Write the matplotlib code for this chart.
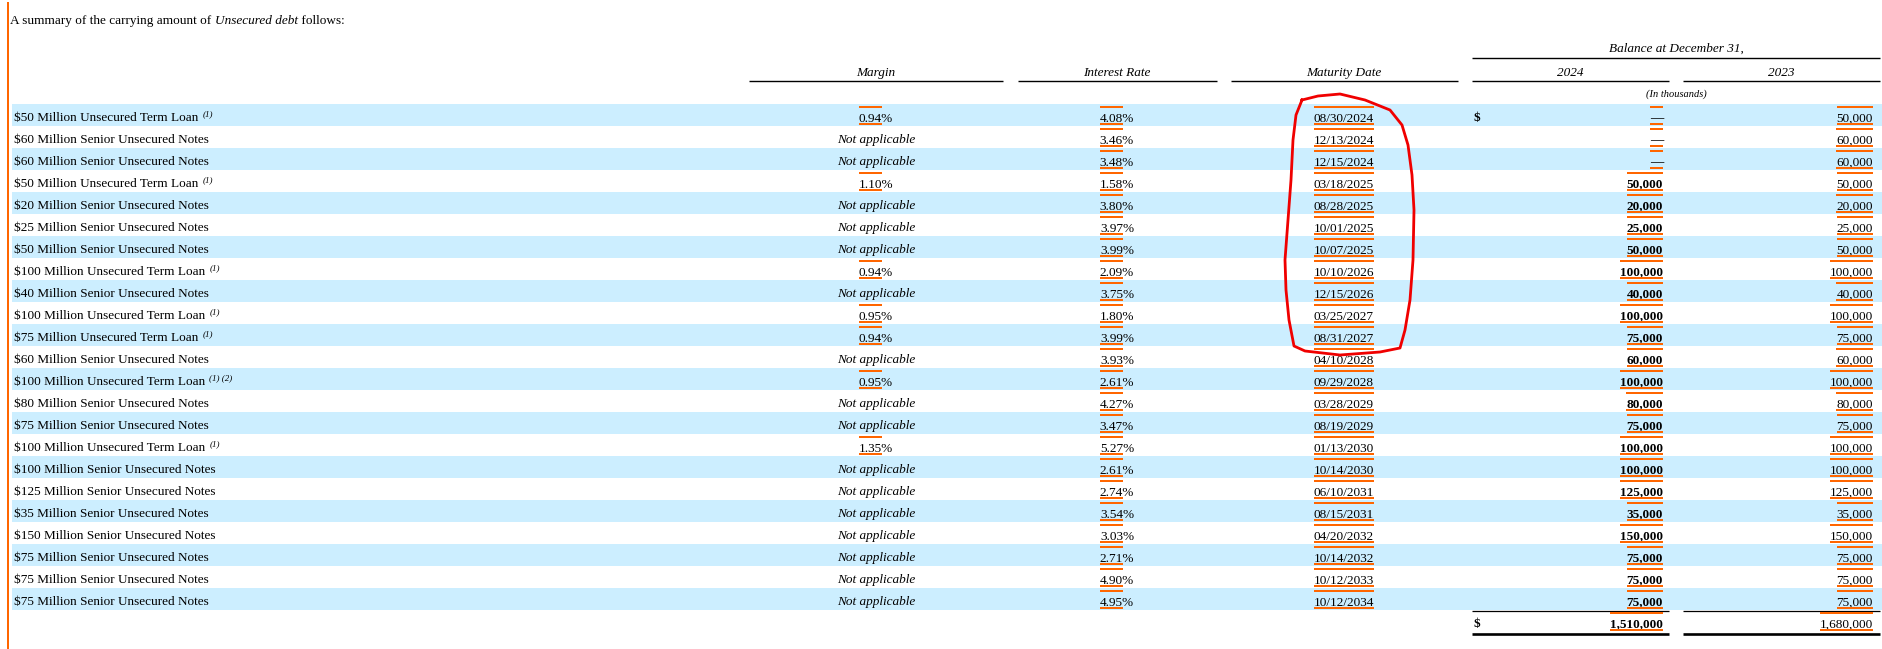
import matplotlib.pyplot as plt
from matplotlib.patches import Rectangle

# ------------------------------------
#          - Table contents -
# ------------------------------------
labels = [
    '$50 Million Unsecured Term Loan', '$60 Million Senior Unsecured Notes',
    '$60 Million Senior Unsecured Notes', '$50 Million Unsecured Term Loan',
    '$20 Million Senior Unsecured Notes', '$25 Million Senior Unsecured Notes',
    '$50 Million Senior Unsecured Notes', '$100 Million Unsecured Term Loan',
    '$40 Million Senior Unsecured Notes', '$100 Million Unsecured Term Loan',
    '$75 Million Unsecured Term Loan', '$60 Million Senior Unsecured Notes',
    '$100 Million Unsecured Term Loan', '$80 Million Senior Unsecured Notes',
    '$75 Million Senior Unsecured Notes', '$100 Million Unsecured Term Loan',
    '$100 Million Senior Unsecured Notes', '$125 Million Senior Unsecured Notes',
    '$35 Million Senior Unsecured Notes', '$150 Million Senior Unsecured Notes',
    '$75 Million Senior Unsecured Notes', '$75 Million Senior Unsecured Notes',
    '$75 Million Senior Unsecured Notes',
]
notes = ['(1)', '', '', '(1)', '', '', '', '(1)', '', '(1)', '(1)', '', '(1) (2)',
         '', '', '(1)', '', '', '', '', '', '', '']
margins = ['0.94%', None, None, '1.10%', None, None, None, '0.94%', None, '0.95%',
           '0.94%', None, '0.95%', None, None, '1.35%', None, None, None, None,
           None, None, None]
rates = ['4.08%', '3.46%', '3.48%', '1.58%', '3.80%', '3.97%', '3.99%', '2.09%',
         '3.75%', '1.80%', '3.99%', '3.93%', '2.61%', '4.27%', '3.47%', '5.27%',
         '2.61%', '2.74%', '3.54%', '3.03%', '2.71%', '4.90%', '4.95%']
maturities = ['08/30/2024', '12/13/2024', '12/15/2024', '03/18/2025', '08/28/2025',
              '10/01/2025', '10/07/2025', '10/10/2026', '12/15/2026', '03/25/2027',
              '08/31/2027', '04/10/2028', '09/29/2028', '03/28/2029', '08/19/2029',
              '01/13/2030', '10/14/2030', '06/10/2031', '08/15/2031', '04/20/2032',
              '10/14/2032', '10/12/2033', '10/12/2034']
bal_2024 = [0, 0, 0, 50000, 20000, 25000, 50000, 100000, 40000, 100000, 75000,
            60000, 100000, 80000, 75000, 100000, 100000, 125000, 35000, 150000,
            75000, 75000, 75000]
bal_2023 = [50000, 60000, 60000, 50000, 20000, 25000, 50000, 100000, 40000, 100000,
            75000, 60000, 100000, 80000, 75000, 100000, 100000, 125000, 35000,
            150000, 75000, 75000, 75000]
total_2024 = 1510000
total_2023 = 1680000

# hand-drawn red ring around the first maturity dates (annotation)
ring = [(1302, 100), (1318, 96), (1340, 94), (1365, 100), (1390, 110), (1402, 125),
        (1408, 145), (1412, 175), (1414, 210), (1413, 260), (1410, 300), (1405, 330),
        (1400, 348), (1380, 352), (1340, 355), (1305, 351), (1294, 346), (1289, 320),
        (1286, 290), (1285, 260), (1288, 220), (1291, 180), (1293, 140), (1296, 115),
        (1302, 100)]

# ------------------------------------
#          - Layout -
# ------------------------------------
W, H = 1882, 649
SERIF = 'Liberation Serif'
FS = 9.5
ORANGE = '#ff6600'
BLUE = '#cceeff'
ROW0, ROW_H = 104, 22

x_margin, x_rate, x_mat = 876, 1117, 1344
x_dollar, x_2024, x_2023 = 1474, 1663, 1873

fig = plt.figure(figsize=(W / 100, H / 100), dpi=100)
ax = fig.add_axes([0, 0, 1, 1])
ax.set_xlim(0, W)
ax.set_ylim(H, 0)
ax.axis('off')
renderer = fig.canvas.get_renderer()
inv = ax.transData.inverted()


def txt(x, y, s, **kw):
    kw.setdefault('fontsize', FS)
    kw.setdefault('family', SERIF)
    kw.setdefault('va', 'baseline')
    return ax.text(x, y, s, color='black', **kw)


def span(t):
    bb = t.get_window_extent(renderer)
    (x0, _), (x1, _) = inv.transform([[bb.x0, bb.y0], [bb.x1, bb.y1]])
    return x0, x1


def mark(x0, x1, top):
    # orange tag bars above and below a value
    ax.add_patch(Rectangle((x0, top + 2), x1 - x0, 2, color=ORANGE, lw=0, zorder=3))
    ax.add_patch(Rectangle((x0, top + 19), x1 - x0, 2, color=ORANGE, lw=0, zorder=3))


# width of the '%' sign, which the tag bars leave out
probe = txt(100, 300, '%')
pct_w = span(probe)
pct_w = pct_w[1] - pct_w[0]
probe.remove()

# left orange margin bar
ax.add_patch(Rectangle((7, 2), 2.5, H, color=ORANGE, lw=0))

# title
t1 = txt(10, 24, 'A summary of the carrying amount of ')
x = span(t1)[1]
t2 = txt(x, 24, 'Unsecured debt', style='italic')
x = span(t2)[1]
txt(x, 24, ' follows:')

# header
for label, cx, x0, x1 in [('Margin', 876, 749, 1003), ('Interest Rate', 1117, 1018, 1217),
                          ('Maturity Date', 1344, 1231, 1458), ('2024', 1570, 1472, 1669),
                          ('2023', 1781, 1683, 1880)]:
    txt(cx, 76, label, ha='center', style='italic')
    ax.plot([x0, x1], [81, 81], color='black', lw=1.0, solid_capstyle='butt')
txt(1676, 52, 'Balance at December 31,', ha='center', style='italic')
ax.plot([1472, 1880], [58, 58], color='black', lw=1.0, solid_capstyle='butt')
txt(1676, 97, '(In thousands)', ha='center', style='italic', fontsize=7.5)

# rows
for i in range(len(labels)):
    top = ROW0 + i * ROW_H
    base = top + 17.5
    if i % 2 == 0:
        ax.add_patch(Rectangle((12, top), W - 12, ROW_H, color=BLUE, lw=0, zorder=0))
    t = txt(14, base, labels[i])
    if notes[i]:
        txt(span(t)[1] + 4, base - 5, notes[i], style='italic', fontsize=6.5)

    if margins[i] is None:
        txt(x_margin, base, 'Not applicable', ha='center', style='italic')
    else:
        x0, x1 = span(txt(x_margin, base, margins[i], ha='center'))
        mark(x0, x1 - pct_w, top)

    x0, x1 = span(txt(x_rate, base, rates[i], ha='center'))
    mark(x0, x1 - pct_w, top)

    x0, x1 = span(txt(x_mat, base, maturities[i], ha='center'))
    mark(x0, x1, top)

    s = f'{bal_2024[i]:,}' if bal_2024[i] else '\u2014'
    x0, x1 = span(txt(x_2024, base, s, ha='right', weight='bold'))
    mark(x0, x1, top)
    x0, x1 = span(txt(x_2023, base, f'{bal_2023[i]:,}', ha='right'))
    mark(x0, x1, top)

txt(x_dollar, ROW0 + 17.5, '$', weight='bold')

# total row
top = ROW0 + len(labels) * ROW_H
base = top + 17.5
for x0, x1 in [(1472, 1669), (1683, 1880)]:
    ax.plot([x0, x1], [top + 0.5, top + 0.5], color='black', lw=0.9, solid_capstyle='butt')
    ax.plot([x0, x1], [top + 23.5, top + 23.5], color='black', lw=1.9, solid_capstyle='butt')
txt(x_dollar, base, '$', weight='bold')
x0, x1 = span(txt(x_2024, base, f'{total_2024:,}', ha='right', weight='bold'))
mark(x0, x1, top)
x0, x1 = span(txt(x_2023, base, f'{total_2023:,}', ha='right'))
mark(x0, x1, top)

# red annotation ring
rx, ry = zip(*ring)
ax.plot(rx, ry, color='#f00000', lw=2.0, solid_joinstyle='round', zorder=5)

fig.savefig('out.png', dpi=100)
